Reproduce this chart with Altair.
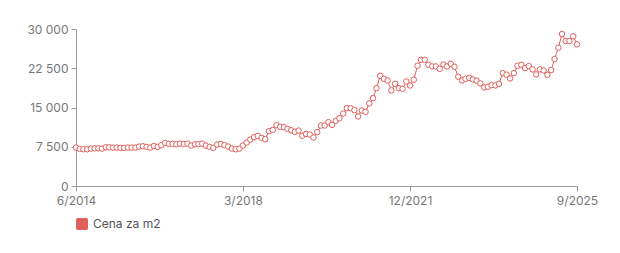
import altair as alt
import pandas as pd

# ---- data -------------------------------------------------------------
series_name = "Cena za m2"
start_year, start_month = 2014, 6
values = [
    7340, 7085, 7020, 7020, 7150, 7210, 7210, 7150, 7400, 7400,
    7340, 7340, 7280, 7280, 7340, 7340, 7340, 7530, 7600, 7470,
    7340, 7660, 7470, 7790, 8230, 8040, 8040, 7980, 8100, 8040,
    8100, 7720, 7980, 7980, 8100, 7720, 7470, 7280, 7915, 8040,
    7790, 7530, 7150, 7020, 7150, 7720, 8300, 8870, 9320, 9575,
    9190, 8936, 10470, 10720, 11620, 11300, 11230, 10920, 10660, 10340,
    10600, 9600, 9960, 9830, 9255, 10280, 11550, 11550, 12190, 11680,
    12450, 12960, 13850, 14870, 14870, 14490, 13280, 14430, 14170, 15770,
    16790, 18700, 21060, 20490, 20170, 18260, 19530, 18700, 18570, 19980,
    19210, 20300, 22980, 24130, 24130, 23170, 22850, 22850, 22400, 23230,
    22850, 23360, 22790, 20870, 20170, 20490, 20680, 20360, 20110, 19600,
    18830, 18960, 19280, 19210, 19530, 21570, 21260, 20550, 21570, 22980,
    23170, 22530, 22920, 22280, 21320, 22280, 22080, 21260, 22150, 24260,
    26430, 29040, 27700, 27700, 28600, 27060,
]
x_tick_labels = ["6/2014", "3/2018", "12/2021", "9/2025"]
y_ticks = [0, 7500, 15000, 22500, 30000]

months = []
for i in range(len(values)):
    k = start_month - 1 + i
    months.append(f"{start_year + k // 12}-{k % 12 + 1:02d}-01")

df = pd.DataFrame({"month": months, "value": values, "series": series_name})


def to_dt(label):
    m, y = label.split("/")
    return alt.DateTime(year=int(y), month=int(m), date=1, utc=True)


tick_dts = [to_dt(t) for t in x_tick_labels]

RED = "#df5f5b"
FONT = "Inter"

x_enc = alt.X(
    "month:T",
    scale=alt.Scale(type="utc", domain=[tick_dts[0], tick_dts[-1]]),
    axis=alt.Axis(
        values=tick_dts,
        labelExpr="(utcmonth(datum.value) + 1) + '/' + utcyear(datum.value)",
        labelFlush=False,
        title=None,
        grid=False,
        tickSize=5,
        labelPadding=4,
        labelFontSize=12,
        labelColor="#777777",
        domainColor="#9a9a9a",
        tickColor="#9a9a9a",
        labelFont=FONT,
    ),
)
y_enc = alt.Y(
    "value:Q",
    scale=alt.Scale(domain=[0, 30000], nice=False),
    axis=alt.Axis(
        values=y_ticks,
        labelExpr="replace(format(datum.value, ',d'), ',', ' ')",
        title=None,
        grid=False,
        tickSize=5,
        labelPadding=3,
        labelFontSize=12,
        labelColor="#777777",
        domainColor="#9a9a9a",
        tickColor="#9a9a9a",
        labelFont=FONT,
    ),
)

base = alt.Chart(df).encode(x=x_enc, y=y_enc)

line = base.mark_line(color=RED, strokeWidth=1)
points = base.mark_point(
    filled=False, fill="white", color=RED, stroke=RED, size=30, strokeWidth=1, opacity=1
)

rounded_square = (
    "M-0.7,-1 H0.7 Q1,-1 1,-0.7 V0.7 Q1,1 0.7,1 H-0.7 Q-1,1 -1,0.7 "
    "V-0.7 Q-1,-1 -0.7,-1 Z"
)

legend_layer = (
    alt.Chart(df)
    .transform_filter("false")
    .mark_square(opacity=1, filled=True)
    .encode(
        fill=alt.Fill(
            "series:N",
            scale=alt.Scale(domain=[series_name], range=[RED]),
            legend=alt.Legend(
                title=None,
                orient="none",
                legendX=0,
                legendY=189,
                padding=0,
                symbolType=rounded_square,
                symbolSize=144,
                symbolStrokeWidth=0,
                labelFontSize=12,
                labelColor="#555555",
                labelFont=FONT,
                labelOffset=5,
            ),
        ),
        x=x_enc,
        y=y_enc,
    )
)

chart = (
    alt.layer(line, points, legend_layer)
    .properties(
        width=501,
        height=157,
        autosize=alt.AutoSizeParams(type="none"),
        padding={"left": 76, "top": 29, "right": 43, "bottom": 67},
        background="white",
    )
    .configure_view(stroke=None)
)

chart.save("out.html", embed_options={"renderer": "svg", "actions": False})
